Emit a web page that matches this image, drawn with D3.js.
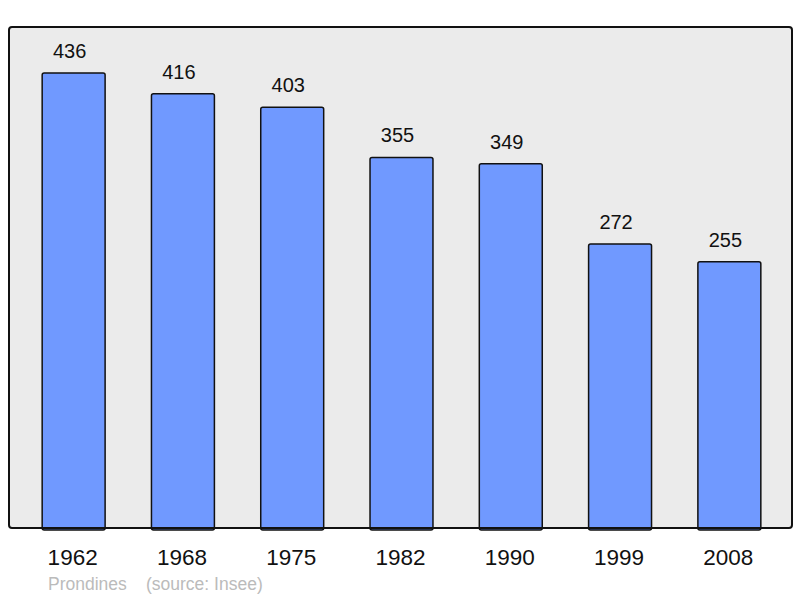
<!DOCTYPE html>
<html>
<head>
<meta charset="utf-8">
<script src="https://cdn.jsdelivr.net/npm/d3@7"></script>
<style>
  body { margin: 0; background: #fff; }
  text { font-family: "Liberation Sans", Arial, sans-serif; }
</style>
</head>
<body>
<div id="chart"></div>
<script>
// Frame size
const FRAME_WIDTH = 800;
const FRAME_HEIGHT = 598;

// Panel box (grey background)
const PANEL = {left: 9, top: 27, right: 792, bottom: 528};

// Data
const years = ["1962", "1968", "1975", "1982", "1990", "1999", "2008"];
const population = [436, 416, 403, 355, 349, 272, 255];
const commune = "Prondines";
const source = "(source: Insee)";

const SVG = d3.select("#chart")
  .append("svg")
    .attr("width", FRAME_WIDTH)
    .attr("height", FRAME_HEIGHT);

// Scales
const X_SCALE = d3.scaleBand()
  .domain(years)
  .range([19, 784])
  .paddingInner(0.424)
  .paddingOuter(0.212);

const Y_SCALE = d3.scaleLinear()
  .domain([0, 480])
  .range([PANEL.bottom, PANEL.top]);

// Panel background
SVG.append("rect")
  .attr("x", PANEL.left)
  .attr("y", PANEL.top)
  .attr("width", PANEL.right - PANEL.left)
  .attr("height", PANEL.bottom - PANEL.top)
  .attr("rx", 3)
  .attr("fill", "#ebebeb")
  .attr("stroke", "none");

// Bars
SVG.selectAll(".bar")
  .data(population)
  .enter()
  .append("rect")
    .attr("class", "bar")
    .attr("x", (d, i) => X_SCALE(years[i]))
    .attr("y", (d) => Y_SCALE(d))
    .attr("width", X_SCALE.bandwidth())
    .attr("height", (d) => Y_SCALE(0) - Y_SCALE(d) + 2)
    .attr("rx", 2)
    .attr("fill", "#7099ff")
    .attr("stroke", "#111")
    .attr("stroke-width", 1.5);

// Panel border drawn on top
SVG.append("rect")
  .attr("x", PANEL.left)
  .attr("y", PANEL.top)
  .attr("width", PANEL.right - PANEL.left)
  .attr("height", PANEL.bottom - PANEL.top)
  .attr("rx", 3)
  .attr("fill", "none")
  .attr("stroke", "#111")
  .attr("stroke-width", 2);

// Value labels (sit slightly left of bar centre, as in the original)
SVG.selectAll(".val")
  .data(population)
  .enter()
  .append("text")
    .attr("class", "val")
    .attr("x", (d, i) => X_SCALE(years[i]) + X_SCALE.bandwidth() / 2 - 4)
    .attr("y", (d) => Y_SCALE(d) - 15)
    .attr("text-anchor", "middle")
    .attr("font-size", "20px")
    .attr("fill", "#111")
    .text((d) => d);

// Year labels (x-axis, no line)
const xAxis = SVG.append("g")
  .attr("transform", "translate(0," + PANEL.bottom + ")")
  .call(d3.axisBottom(X_SCALE).tickSize(0).tickPadding(0));
xAxis.select(".domain").remove();
xAxis.selectAll("text")
  .attr("x", -1)
  .attr("y", 37)
  .attr("dy", 0)
  .attr("font-size", "22.5px")
  .attr("font-family", "Liberation Sans, Arial, sans-serif")
  .attr("fill", "#111");

// Footer
SVG.append("text")
  .attr("x", 48)
  .attr("y", 590)
  .attr("font-size", "17.5px")
  .attr("fill", "#bbbbbb")
  .text(commune);

SVG.append("text")
  .attr("x", 146)
  .attr("y", 590)
  .attr("font-size", "17.5px")
  .attr("fill", "#bbbbbb")
  .text(source);
</script>
</body>
</html>
